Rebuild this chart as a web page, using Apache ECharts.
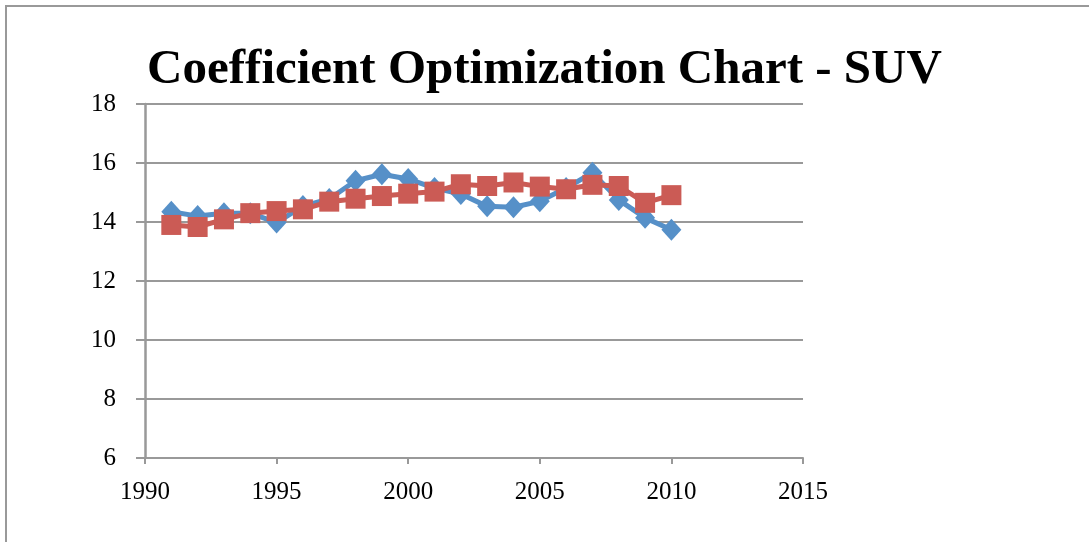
<!DOCTYPE html>
<html>
<head>
<meta charset="utf-8">
<script src="https://cdn.jsdelivr.net/npm/echarts@6/dist/echarts.min.js"></script>
<style>
  html, body { margin: 0; padding: 0; background: #fff; }
  #chart { width: 1089px; height: 542px; }
</style>
</head>
<body>
<div id="chart"></div>
<script>
// values
var years = [1991, 1992, 1993, 1994, 1995, 1996, 1997, 1998, 1999, 2000,
             2001, 2002, 2003, 2004, 2005, 2006, 2007, 2008, 2009, 2010];
var actual = [14.35, 14.2, 14.3, 14.3, 13.98, 14.54, 14.78, 15.4, 15.62, 15.46,
              15.15, 14.95, 14.53, 14.5, 14.7, 15.15, 15.67, 14.75, 14.14, 13.74];
var fitted = [13.9, 13.83, 14.09, 14.3, 14.37, 14.43, 14.69, 14.79, 14.88, 14.96,
              15.03, 15.28, 15.22, 15.34, 15.2, 15.11, 15.26, 15.22, 14.65, 14.91];
var xRange = [1990, 2015, 5];
var yRange = [6, 18, 2];

function pairs(xs, ys) {
    var out = [];
    for (var i = 0; i < xs.length; i++) out.push([xs[i], ys[i]]);
    return out;
}

var chart = echarts.init(document.getElementById('chart'));
var serif = '"Liberation Serif", "DejaVu Serif", serif';
var gray = '#999999';

var option = {
    animation: false,
    title: {
        text: 'Coefficient Optimization Chart - SUV',
        left: 'center',
        top: 41,
        textStyle: { fontFamily: serif, fontWeight: 'bold', fontSize: 49, color: '#000' }
    },
    graphic: [{
        type: 'rect',
        shape: { x: 6, y: 6, width: 1200, height: 700 },
        style: { fill: 'none', stroke: gray, lineWidth: 2 },
        silent: true
    }],
    grid: { left: 145, right: 286, top: 104, bottom: 84 },
    xAxis: {
        type: 'value',
        min: xRange[0], max: xRange[1], interval: xRange[2],
        axisLine: { lineStyle: { color: gray, width: 2 } },
        axisTick: { show: true, length: 6, lineStyle: { color: gray, width: 2 } },
        axisLabel: {
            margin: 22, fontFamily: serif, fontSize: 25, color: '#000',
            formatter: function (v) { return String(v); }
        },
        splitLine: { show: false }
    },
    yAxis: {
        type: 'value',
        min: yRange[0], max: yRange[1], interval: yRange[2],
        axisLine: { show: true, lineStyle: { color: gray, width: 2.5 } },
        axisTick: { show: true, length: 9, lineStyle: { color: gray, width: 2 } },
        axisLabel: {
            margin: 29, fontFamily: serif, fontSize: 25, color: '#000',
            padding: [6, 0, 0, 0]
        },
        splitLine: { show: true, lineStyle: { color: gray, width: 2 } }
    },
    series: [{
        name: 'Actual',
        type: 'line',
        data: pairs(years, actual),
        symbol: 'diamond',
        symbolSize: [20, 22],
        color: '#5690C8',
        lineStyle: { width: 5, color: '#5690C8' },
        itemStyle: { color: '#5690C8' }
    }, {
        name: 'Fitted',
        type: 'line',
        data: pairs(years, fitted),
        symbol: 'rect',
        symbolSize: 20,
        color: '#CB5B55',
        lineStyle: { width: 5, color: '#CB5B55' },
        itemStyle: { color: '#CB5B55' }
    }]
};

chart.setOption(option);
window.onresize = chart.resize;
</script>
</body>
</html>
